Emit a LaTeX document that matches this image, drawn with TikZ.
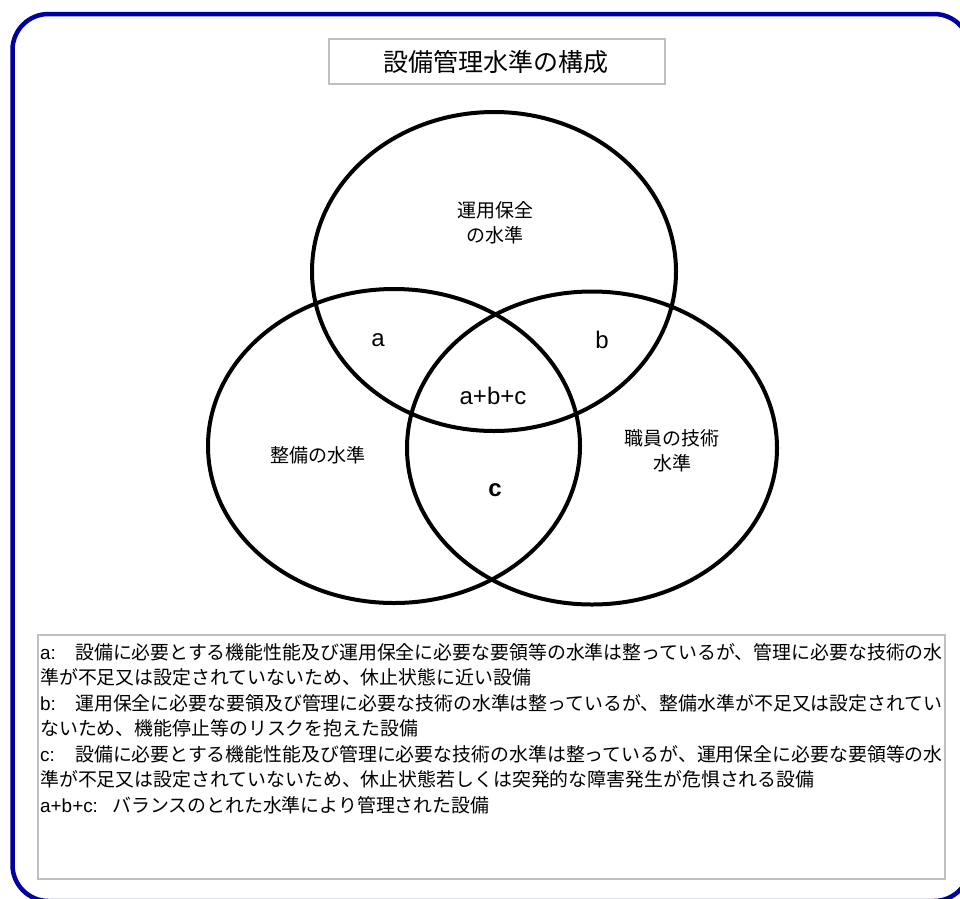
\documentclass[tikz,border=0pt]{standalone}
\usepackage{fontspec}
\setmainfont{Noto Sans CJK JP}
\newfontfamily\arial{Liberation Sans}
\usetikzlibrary{shapes.geometric}
\definecolor{frameblue}{RGB}{0,0,160}
\definecolor{boxgray}{RGB}{192,192,192}
\tikzset{
  venn/.style={draw=black, line width=4pt, ellipse, inner sep=0pt},
  graybox/.style={draw=boxgray, line width=2.5pt, inner sep=0pt},
  jlabel/.style={inner sep=0pt, font=\fontsize{19}{22}\selectfont},
  llabel/.style={inner sep=0pt, font=\arial\fontsize{24}{28}\selectfont},
  bodyline/.style={inner sep=0pt, anchor=west, font=\fontsize{18.9}{22}\selectfont},
}
\begin{document}
\begin{tikzpicture}[x=1pt, y=-1pt]
\useasboundingbox (0,0) rectangle (960,898);
% outer frame
\draw[frameblue, line width=4.5pt, rounded corners=36pt] (12.5,14) rectangle (970,901);
% title
\node[graybox, minimum width=336pt, minimum height=45pt] (titlebox) at (497,61.5) {};
\node[inner sep=0pt, font=\fontsize{25}{28}\selectfont] (title) at (496,62) {設備管理水準の構成};
% ellipses
\node[venn, minimum width=364pt, minimum height=319pt] (ops) at (494,271.5) {};
\node[venn, minimum width=372pt, minimum height=314pt] (mnt) at (394,446) {};
\node[venn, minimum width=370pt, minimum height=313pt] (stf) at (592,448) {};
% ellipse labels
\node[jlabel] (opsA) at (495,210) {運用保全};
\node[jlabel] (opsB) at (495,235) {の水準};
\node[jlabel] (mntA) at (318,455) {整備の水準};
\node[jlabel] (stfA) at (672,438) {職員の技術};
\node[jlabel] (stfB) at (672,463) {水準};
\node[llabel] (la) at (378,340) {a};
\node[llabel] (lb) at (602,340) {b};
\node[llabel] (labc) at (493,396) {a+b+c};
\node[llabel, font=\arial\bfseries\fontsize{24}{28}\selectfont] (lc) at (495,490) {c};
% text box
\node[graybox, minimum width=907pt, minimum height=244pt] (textbox) at (491.5,757) {};
\node[bodyline] (l1) at (40,652) {\makebox[35pt][l]{\arial a:}設備に必要とする機能性能及び運用保全に必要な要領等の水準は整っているが、管理に必要な技術の水};
\node[bodyline] (l2) at (40,677.5) {準が不足又は設定されていないため、休止状態に近い設備};
\node[bodyline] (l3) at (40,703) {\makebox[35pt][l]{\arial b:}運用保全に必要な要領及び管理に必要な技術の水準は整っているが、整備水準が不足又は設定されてい};
\node[bodyline] (l4) at (40,728.5) {ないため、機能停止等のリスクを抱えた設備};
\node[bodyline] (l5) at (40,754) {\makebox[35pt][l]{\arial c:}設備に必要とする機能性能及び管理に必要な技術の水準は整っているが、運用保全に必要な要領等の水};
\node[bodyline] (l6) at (40,779.5) {準が不足又は設定されていないため、休止状態若しくは突発的な障害発生が危惧される設備};
\node[bodyline] (l7) at (40,805) {\makebox[72pt][l]{\arial a+b+c:}バランスのとれた水準により管理された設備};
\end{tikzpicture}
\end{document}
